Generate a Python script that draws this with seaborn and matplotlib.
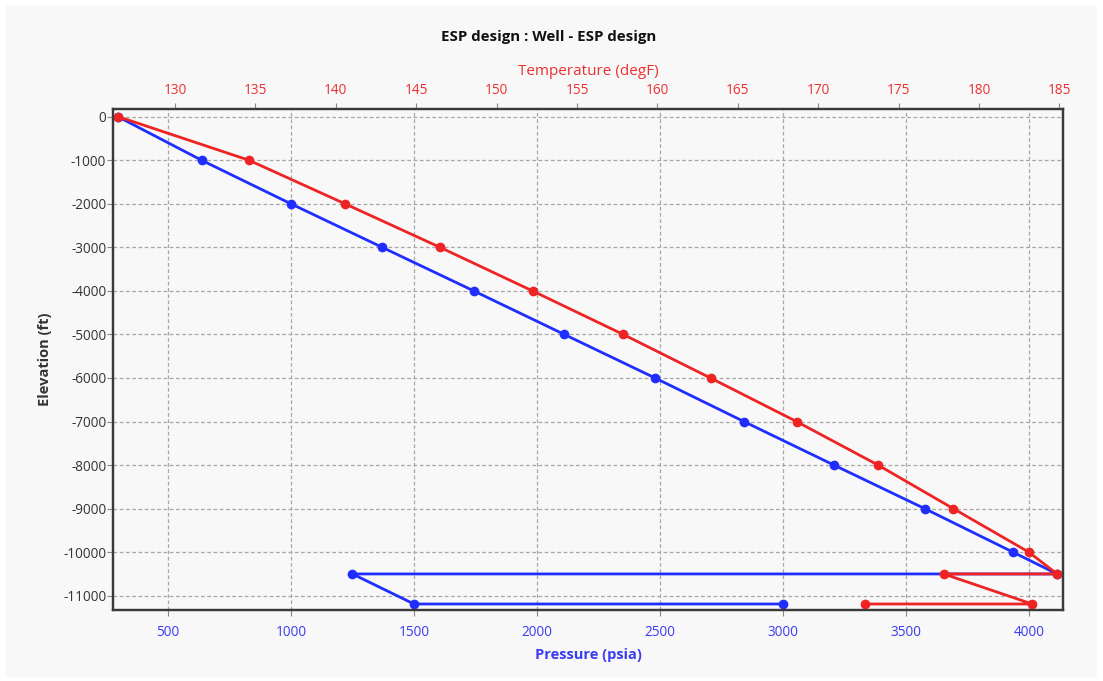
import matplotlib
matplotlib.use("Agg")
import matplotlib.pyplot as plt
from matplotlib.patches import Rectangle
import seaborn as sns
import pandas as pd

# Well profile: elevation (ft) against pressure (psia) and temperature (degF)
elevation = [0, -1000, -2000, -3000, -4000, -5000, -6000, -7000, -8000,
             -9000, -10000, -10500, -10500, -11190, -11190]
pressure = [297, 637, 1000, 1371, 1743, 2111, 2480, 2841, 3207,
            3576, 3935, 4114, 1250, 1500, 3000]
temperature = [126.47, 134.6, 140.57, 146.48, 152.23, 157.87, 163.3, 168.65,
               173.72, 178.4, 183.1, 184.85, 177.8, 183.3, 172.9]

pressure_ticks = [500, 1000, 1500, 2000, 2500, 3000, 3500, 4000]
temperature_ticks = [130, 135, 140, 145, 150, 155, 160, 165, 170, 175, 180, 185]
elevation_ticks = [0, -1000, -2000, -3000, -4000, -5000, -6000, -7000, -8000,
                   -9000, -10000, -11000]

BLUE = "#1f2eff"
RED = "#ee2424"
BLUE_TXT = "#3a3cf0"
RED_TXT = "#ec3030"
BG = "#f8f8f8"

sns.set_theme(style="whitegrid")
plt.rcParams["font.family"] = ["Open Sans", "DejaVu Sans"]

W, H = 1103, 681
fig = plt.figure(figsize=(W / 100, H / 100), dpi=100, facecolor="white")
fig.patches.append(Rectangle((6 / W, 4 / H), (W - 12) / W, (H - 9) / H,
                             transform=fig.transFigure, facecolor=BG,
                             edgecolor="none", zorder=-10))

left, right, top, bottom = 113.3, 1063, 109.3, 609.7
ax = fig.add_axes([left / W, 1 - bottom / H, (right - left) / W, (bottom - top) / H])
ax.set_facecolor(BG)

df = pd.DataFrame({"elevation": elevation, "pressure": pressure,
                   "temperature": temperature})

sns.lineplot(data=df, x="pressure", y="elevation", sort=False, estimator=None,
             color=BLUE, linewidth=2.0, marker="o", markersize=7,
             markeredgewidth=0, ax=ax)

ax.set_xlim(278, 4138)
ax.set_ylim(-11321, 170)
ax.set_xticks(pressure_ticks)
ax.set_yticks(elevation_ticks)
ax.set_yticklabels([str(v) for v in elevation_ticks])
ax.grid(True, color="#a8a8a8", linestyle=(0, (3, 2)), linewidth=0.9)
ax.tick_params(axis="x", colors=BLUE_TXT, labelsize=9.8, length=4, width=0.8,
               direction="out", bottom=True, pad=7)
ax.tick_params(axis="y", colors="#333333", labelsize=9.8, length=4, width=0.8,
               direction="out", left=True, pad=1)
ax.xaxis.set_tick_params(color="#888888")
ax.yaxis.set_tick_params(color="#888888")
ax.set_xlabel("Pressure (psia)", color=BLUE_TXT, fontsize=10.5,
              fontweight="bold", labelpad=6)
ax.set_ylabel("Elevation (ft)", color="#333333", fontsize=10.5,
              fontweight="bold", labelpad=8)

ax2 = ax.twiny()
sns.lineplot(data=df, x="temperature", y="elevation", sort=False,
             estimator=None, color=RED, linewidth=2.0, marker="o",
             markersize=7, markeredgewidth=0, ax=ax2)
ax2.set_xlim(126.16, 185.22)
ax2.set_xticks(temperature_ticks)
ax2.grid(False)
ax2.set_ylabel("")
ax2.tick_params(axis="x", colors=RED_TXT, labelsize=9.8, length=4, width=0.8,
                direction="out", top=True, pad=4)
ax2.xaxis.set_tick_params(color="#888888")
ax2.set_xlabel("Temperature (degF)", color=RED_TXT, fontsize=11, labelpad=6)

for a in (ax, ax2):
    for s in a.spines.values():
        s.set_color("#3a3a3a")
        s.set_linewidth(1.6)

fig.text(548.5 / W, 1 - 37 / H, "ESP design : Well - ESP design",
         ha="center", va="center", fontsize=10.8, fontweight="bold",
         color="#111111")

fig.savefig("out.png", dpi=100, facecolor=fig.get_facecolor())
